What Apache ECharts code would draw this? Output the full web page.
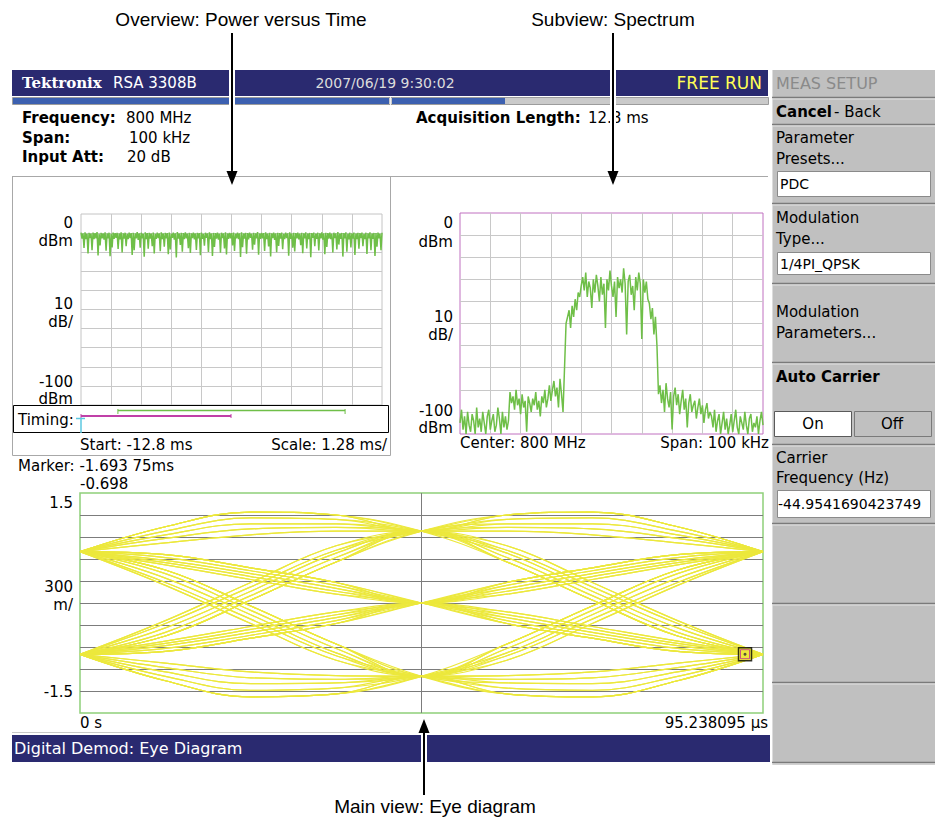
<!DOCTYPE html>
<html><head><meta charset="utf-8">
<script src="https://cdn.jsdelivr.net/npm/echarts@6/dist/echarts.min.js"></script>
<style>html,body{margin:0;padding:0;background:#fff;}#c{width:935px;height:823px;}</style>
</head><body><div id="c"></div>
<script>
// ---------- DATA ----------
const overviewStartMs = -12.8;
const overviewScaleMs = 1.28;
const overviewDbm = [
-9.8,-12.9,-10.1,-17.8,-9.6,-13.2,-10.3,-20.6,-9.9,-12.6,-10.2,-18.9,-9.7,-13.1,-10.0,-12.7,-9.5,-21.7,-10.4,-16.4,
-9.9,-12.8,-10.1,-13.4,-9.6,-19.2,-10.2,-12.7,-9.8,-22.1,-10.3,-17.5,-9.7,-13.0,-10.0,-12.5,-9.9,-18.3,-10.2,-13.3,
-9.6,-20.1,-10.1,-12.9,-9.8,-16.8,-10.4,-13.2,-9.7,-12.6,-10.0,-21.4,-9.9,-19.0,-10.2,-12.8,-9.5,-13.5,-10.1,-17.6,
-9.8,-12.7,-10.3,-22.4,-9.6,-13.1,-10.0,-18.2,-9.9,-12.9,-10.2,-16.9,-9.7,-20.7,-10.4,-13.0,-9.8,-12.6,-10.1,-19.5,
-9.6,-13.2,-10.2,-17.1,-9.9,-12.8,-10.0,-21.0,-9.7,-18.6,-10.3,-12.5,-9.8,-13.4,-10.1,-22.8,-9.5,-12.9,-10.2,-16.2,
-9.9,-19.7,-10.0,-13.1,-9.6,-12.7,-10.3,-17.9,-9.8,-20.4,-10.1,-12.6,-9.7,-13.3,-10.2,-18.8,-9.9,-12.8,-10.0,-21.6,
-9.7,-13.0,-10.4,-16.6,-9.8,-12.5,-10.1,-19.9,-9.6,-13.2,-10.2,-22.0,-9.9,-17.3,-10.0,-12.9,-9.7,-13.4,-10.3,-20.3,
-9.8,-12.6,-10.1,-18.1,-9.6,-21.2,-10.2,-13.0,-9.9,-12.7,-10.0,-16.5,-9.7,-19.3,-10.3,-12.8,-9.8,-13.1,-10.1,-22.5,
-9.6,-17.4,-10.2,-12.9,-9.9,-20.8,-10.0,-13.3,-9.7,-12.5,-10.3,-18.7,-9.8,-16.1,-10.1,-12.7,-9.5,-21.3,-10.2,-13.0,
-9.9,-12.8,-10.0,-19.4,-9.6,-13.2,-10.3,-17.0,-9.8,-22.2,-10.1,-12.6,-9.7,-13.5,-10.2,-20.0,-9.9,-16.7,-10.0,-12.9,
-9.7,-18.4,-10.4,-13.1,-9.8,-12.6,-10.1,-21.8,-9.6,-13.0,-10.2,-17.7,-9.9,-19.6,-10.0,-12.8,-9.7,-13.3,-10.3,-16.3,
-9.8,-20.5,-10.1,-12.7,-9.6,-18.0,-10.2,-13.2,-9.9,-22.6,-10.0,-12.5,-9.7,-16.9,-10.3,-13.0,-9.8,-19.1,-10.1,-12.8,
-9.6,-13.4,-10.2,-21.1,-9.9,-17.2,-10.0,-12.9,-9.7,-13.1,-10.3,-20.2,-9.8,-12.6,-10.1,-18.5,-9.5,-16.0,-10.2,-13.0,
-9.9,-22.3,-10.0,-12.7,-9.6,-19.8,-10.3,-13.3,-9.8,-17.5,-10.1,-12.9,-9.7,-21.5,-10.2,-13.1,-9.9,-18.2,-10.0,-12.6,
-9.7,-16.8,-10.4,-13.2,-9.8,-20.9,-10.1,-12.8,-9.6,-19.0,-10.2,-13.0,-9.9,-22.0,-10.0,-17.1,-9.7,-12.7,-10.3,-18.9,
-9.8];

const spanKHz = 100;
const spectrumDbm = [
-95,-89,-98,-92,-100,-90,-96,-99,-91,-94,-100,-88,-97,-93,-99,-90,-95,-100,-92,-89,-98,-94,-91,-99,-96,-88,-93,-100,-90,-97,-92,-98,-94,
-81,-86,-83,-89,-80,-87,-84,-91,-82,-88,-85,-99,-83,-86,-90,-84,-87,-81,-89,-85,-92,-83,-86,-80,-88,-84,-78,-85,-80,-76,-83,-79,-88,-75,-82,-90,
-70,-50,-47,-44,
-52,-42,-47,-39,-44,-36,
-38,-33,
-29,-35,-27,-38,-31,-34,-43,-30,-36,-28,-33,-40,-29,-37,-32,-52,-30,-35,-26,-33,-38,-31,-47,-29,-34,-30,-36,-25,-32,-55,-31,-28,-37,-33,-44,-29,-35,-27,-32,-57,-30,-36,-31,-39,
-41,-48,-43,-55,-47,-60,-82,
-78,-86,-80,-90,-77,-84,-88,-81,-98,-83,-79,-87,-82,-91,-85,-80,-89,-84,-97,-86,-82,-90,-87,-85,-93,-88,-84,-91,-87,-95,-89,-86,-93,-90,
-92,-97,-89,-99,-94,-91,-100,-95,-90,-98,-93,-100,-96,-91,-99,-94,-89,-97,-100,-92,-95,-98,-90,-96,-100,-93,-91,-99,-95,-97,-92,-100,-94,-90,-96];

const eyeTimesUs = [0, 11.9047619, 23.8095238, 35.7142857, 47.6190476, 59.5238095, 71.4285714, 83.3333333, 95.238095];
const eyeTraces = [
[0.70,1.04,1.24,1.20,0.98,1.08,1.08,0.93,0.70],
[0.70,0.98,1.16,1.14,0.98,1.03,1.01,0.88,0.70],
[0.70,0.93,1.08,1.08,0.98,0.98,0.93,0.82,0.70],
[0.70,0.88,1.01,1.03,0.98,1.20,1.24,1.04,0.70],
[0.70,0.82,0.93,0.98,0.98,1.14,1.16,0.98,0.70],
[0.70,1.04,1.24,1.20,0.98,1.20,1.24,1.04,0.70],
[0.70,1.04,1.24,1.20,0.98,0.68,0.16,-0.34,-0.70],
[0.70,0.98,1.16,1.14,0.98,0.72,0.22,-0.28,-0.70],
[0.70,0.93,1.08,1.08,0.98,0.78,0.28,-0.24,-0.70],
[0.70,0.88,1.01,1.03,0.98,0.56,0.04,-0.45,-0.70],
[0.70,0.82,0.93,0.98,0.98,0.62,0.10,-0.40,-0.70],
[0.70,1.04,1.24,1.20,0.98,0.56,0.04,-0.45,-0.70],
[0.70,0.66,0.48,0.28,0.00,0.20,0.40,0.58,0.70],
[0.70,0.62,0.44,0.24,0.00,0.16,0.36,0.55,0.70],
[0.70,0.58,0.40,0.20,0.00,0.12,0.32,0.52,0.70],
[0.70,0.55,0.36,0.16,0.00,0.28,0.48,0.66,0.70],
[0.70,0.52,0.32,0.12,0.00,0.24,0.44,0.62,0.70],
[0.70,0.66,0.48,0.28,0.00,0.28,0.48,0.66,0.70],
[0.70,0.66,0.48,0.28,0.00,-0.20,-0.40,-0.58,-0.70],
[0.70,0.62,0.44,0.24,0.00,-0.16,-0.36,-0.55,-0.70],
[0.70,0.58,0.40,0.20,0.00,-0.12,-0.32,-0.52,-0.70],
[0.70,0.55,0.36,0.16,0.00,-0.28,-0.48,-0.66,-0.70],
[0.70,0.52,0.32,0.12,0.00,-0.24,-0.44,-0.62,-0.70],
[0.70,0.66,0.48,0.28,0.00,-0.28,-0.48,-0.66,-0.70],
[0.70,0.45,-0.04,-0.56,-1.00,-0.68,-0.16,0.34,0.70],
[0.70,0.40,-0.10,-0.62,-1.00,-0.72,-0.22,0.28,0.70],
[0.70,0.34,-0.16,-0.68,-1.00,-0.78,-0.28,0.24,0.70],
[0.70,0.28,-0.22,-0.72,-1.00,-0.56,-0.04,0.45,0.70],
[0.70,0.24,-0.28,-0.78,-1.00,-0.62,-0.10,0.40,0.70],
[0.70,0.45,-0.04,-0.56,-1.00,-0.56,-0.04,0.45,0.70],
[0.70,0.45,-0.04,-0.56,-1.00,-1.09,-1.10,-0.94,-0.70],
[0.70,0.40,-0.10,-0.62,-1.00,-1.04,-1.02,-0.88,-0.70],
[0.70,0.34,-0.16,-0.68,-1.00,-0.99,-0.94,-0.82,-0.70],
[0.70,0.28,-0.22,-0.72,-1.00,-1.24,-1.28,-1.06,-0.70],
[0.70,0.24,-0.28,-0.78,-1.00,-1.16,-1.19,-1.00,-0.70],
[0.70,0.45,-0.04,-0.56,-1.00,-1.24,-1.28,-1.06,-0.70],
[-0.70,-1.06,-1.28,-1.24,-1.00,-1.09,-1.10,-0.94,-0.70],
[-0.70,-1.00,-1.19,-1.16,-1.00,-1.04,-1.02,-0.88,-0.70],
[-0.70,-0.94,-1.10,-1.09,-1.00,-0.99,-0.94,-0.82,-0.70],
[-0.70,-0.88,-1.02,-1.04,-1.00,-1.24,-1.28,-1.06,-0.70],
[-0.70,-0.82,-0.94,-0.99,-1.00,-1.16,-1.19,-1.00,-0.70],
[-0.70,-1.06,-1.28,-1.24,-1.00,-1.24,-1.28,-1.06,-0.70],
[-0.70,-1.06,-1.28,-1.24,-1.00,-0.68,-0.16,0.34,0.70],
[-0.70,-1.00,-1.19,-1.16,-1.00,-0.72,-0.22,0.28,0.70],
[-0.70,-0.94,-1.10,-1.09,-1.00,-0.78,-0.28,0.24,0.70],
[-0.70,-0.88,-1.02,-1.04,-1.00,-0.56,-0.04,0.45,0.70],
[-0.70,-0.82,-0.94,-0.99,-1.00,-0.62,-0.10,0.40,0.70],
[-0.70,-1.06,-1.28,-1.24,-1.00,-0.56,-0.04,0.45,0.70],
[-0.70,-0.66,-0.48,-0.28,0.00,-0.20,-0.40,-0.58,-0.70],
[-0.70,-0.62,-0.44,-0.24,0.00,-0.16,-0.36,-0.55,-0.70],
[-0.70,-0.58,-0.40,-0.20,0.00,-0.12,-0.32,-0.52,-0.70],
[-0.70,-0.55,-0.36,-0.16,0.00,-0.28,-0.48,-0.66,-0.70],
[-0.70,-0.52,-0.32,-0.12,0.00,-0.24,-0.44,-0.62,-0.70],
[-0.70,-0.66,-0.48,-0.28,0.00,-0.28,-0.48,-0.66,-0.70],
[-0.70,-0.66,-0.48,-0.28,0.00,0.20,0.40,0.58,0.70],
[-0.70,-0.62,-0.44,-0.24,0.00,0.16,0.36,0.55,0.70],
[-0.70,-0.58,-0.40,-0.20,0.00,0.12,0.32,0.52,0.70],
[-0.70,-0.55,-0.36,-0.16,0.00,0.28,0.48,0.66,0.70],
[-0.70,-0.52,-0.32,-0.12,0.00,0.24,0.44,0.62,0.70],
[-0.70,-0.66,-0.48,-0.28,0.00,0.28,0.48,0.66,0.70],
[-0.70,-0.45,0.04,0.56,0.98,0.68,0.16,-0.34,-0.70],
[-0.70,-0.40,0.10,0.62,0.98,0.72,0.22,-0.28,-0.70],
[-0.70,-0.34,0.16,0.68,0.98,0.78,0.28,-0.24,-0.70],
[-0.70,-0.28,0.22,0.72,0.98,0.56,0.04,-0.45,-0.70],
[-0.70,-0.24,0.28,0.78,0.98,0.62,0.10,-0.40,-0.70],
[-0.70,-0.45,0.04,0.56,0.98,0.56,0.04,-0.45,-0.70],
[-0.70,-0.45,0.04,0.56,0.98,1.08,1.08,0.93,0.70],
[-0.70,-0.40,0.10,0.62,0.98,1.03,1.01,0.88,0.70],
[-0.70,-0.34,0.16,0.68,0.98,0.98,0.93,0.82,0.70],
[-0.70,-0.28,0.22,0.72,0.98,1.20,1.24,1.04,0.70],
[-0.70,-0.24,0.28,0.78,0.98,1.14,1.16,0.98,0.70],
[-0.70,-0.45,0.04,0.56,0.98,1.20,1.24,1.04,0.70]];
const eyeMarker = [92.73, -0.698];
const timingAnalysisMs = [-11.23, -1.57];
const timingSpectrumMs = [-12.8, -6.42];
const timingMarkerMs = -12.8;

// ---------- STYLE ----------
const FONT = '"DejaVu Sans", Verdana, sans-serif';
const ANN = '"Liberation Sans", Arial, sans-serif';
const NAVY = '#2a2a70';
const GREEN = '#6fbf48';
const YELLOW = '#ece83c';
const PANEL = '#c0c0c0';

function T(x, y, text, o) {
  o = o || {};
  const al = o.align || 'left';
  return { type: 'text', x: x, y: y, z: o.z || 50, silent: true,
    style: { text: text, fill: o.fill || '#000',
      font: (o.weight || 'normal') + ' ' + (o.size || 15) + 'px ' + (o.family || FONT),
      align: al, verticalAlign: 'middle', textAlign: al, textVerticalAlign: 'middle' } };
}
function L(x1, y1, x2, y2, c, w, z) {
  return { type: 'line', silent: true, z: z || 10, shape: { x1: x1, y1: y1, x2: x2, y2: y2 },
    style: { stroke: c, lineWidth: w || 1 } };
}
function R(x, y, w, h, fill, stroke, z, lw) {
  return { type: 'rect', silent: true, z: z || 5, shape: { x: x, y: y, width: w, height: h },
    style: { fill: fill || 'none', stroke: stroke || 'none', lineWidth: lw || 1 } };
}
function P(points, fill, z) {
  return { type: 'polygon', silent: true, z: z || 100, shape: { points: points }, style: { fill: fill } };
}

const chart = echarts.init(document.getElementById('c'), null, { renderer: 'svg' });

const nO = overviewDbm.length;
const overviewData = overviewDbm.map((v, i) => [overviewStartMs + i * overviewScaleMs * 10 / (nO - 1), v]);
const nS = spectrumDbm.length;
const spectrumData = spectrumDbm.map((v, i) => [-spanKHz / 2 + i * spanKHz / (nS - 1), v]);

const hidden = { axisLine: { show: false }, axisTick: { show: false }, axisLabel: { show: false } };
function split(c) { return { show: true, showMinLine: false, showMaxLine: false, lineStyle: { color: c, width: 1 } }; }

const series = [
  { type: 'line', xAxisIndex: 0, yAxisIndex: 0, data: overviewData, symbol: 'none',
    lineStyle: { color: GREEN, width: 1.5 }, animation: false, z: 3 },
  { type: 'line', xAxisIndex: 1, yAxisIndex: 1, data: spectrumData, symbol: 'none',
    lineStyle: { color: GREEN, width: 1.5 }, animation: false, z: 3 }
];
eyeTraces.forEach(tr => {
  series.push({ type: 'line', xAxisIndex: 2, yAxisIndex: 2, smooth: 0.4, symbol: 'none',
    data: eyeTimesUs.map((t, k) => [t, tr[k]]), lineStyle: { color: YELLOW, width: 1.2 },
    animation: false, z: 3, silent: true });
});
series.push({ type: 'scatter', xAxisIndex: 2, yAxisIndex: 2, data: [eyeMarker], symbol: 'rect', symbolSize: 13,
  itemStyle: { color: YELLOW, borderColor: '#000', borderWidth: 1.5 }, z: 5, animation: false, silent: true });
series.push({ type: 'scatter', xAxisIndex: 2, yAxisIndex: 2, data: [eyeMarker], symbol: 'rect', symbolSize: 9,
  itemStyle: { color: YELLOW, borderColor: '#c03090', borderWidth: 1 }, z: 6, animation: false, silent: true });
series.push({ type: 'scatter', xAxisIndex: 2, yAxisIndex: 2, data: [eyeMarker], symbol: 'circle', symbolSize: 3,
  itemStyle: { color: '#303030' }, z: 7, animation: false, silent: true });

chart.setOption({
  animation: false,
  backgroundColor: '#fff',
  grid: [
    { left: 81, top: 214, width: 301, height: 191, show: true, borderColor: '#c4c4c4', borderWidth: 1, backgroundColor: 'transparent' },
    { left: 460, top: 213, width: 303, height: 221, show: true, borderColor: '#c070c0', borderWidth: 1, backgroundColor: 'transparent' },
    { left: 80, top: 493, width: 683, height: 220, show: true, borderColor: '#8fd07a', borderWidth: 1.5, backgroundColor: 'transparent' }
  ],
  xAxis: [
    Object.assign({ gridIndex: 0, type: 'value', min: overviewStartMs, max: 0, interval: overviewScaleMs, splitLine: split('#c8c8c8') }, hidden),
    Object.assign({ gridIndex: 1, type: 'value', min: -spanKHz / 2, max: spanKHz / 2, interval: 10, splitLine: split('#c8c8c8') }, hidden),
    Object.assign({ gridIndex: 2, type: 'value', min: 0, max: 95.238095, interval: 47.6190475, splitLine: split('#7c7c7c') }, hidden)
  ],
  yAxis: [
    Object.assign({ gridIndex: 0, type: 'value', min: -100, max: 0, interval: 10, splitLine: split('#c8c8c8') }, hidden),
    Object.assign({ gridIndex: 1, type: 'value', min: -100, max: 0, interval: 10, splitLine: split('#c8c8c8') }, hidden),
    Object.assign({ gridIndex: 2, type: 'value', min: -1.5, max: 1.5, interval: 0.3, splitLine: split('#7c7c7c') }, hidden)
  ],
  series: series
});

// ---------- CHROME ----------
const px = v => chart.convertToPixel({ xAxisIndex: 0 }, v);
const g = [];
// header
g.push(R(12, 70, 756, 26, NAVY, null, 5));
g.push(T(22, 83, 'Tektronix', { fill: '#fff', weight: 'bold', size: 15, family: '"DejaVu Serif", serif' }));
g.push(T(113, 83, 'RSA 3308B', { fill: '#fff', size: 15 }));
g.push(T(385, 83, '2007/06/19 9:30:02', { fill: '#dcdcdc', size: 14, align: 'center' }));
g.push(T(762, 83, 'FREE RUN', { fill: '#ffff55', size: 17, align: 'right' }));
// progress row
g.push(R(12.5, 97.5, 756, 7, '#cacaca', '#9c9c9c', 5));
g.push(R(13, 98, 376, 6, '#3c60b0', null, 6));
g.push(L(390.5, 97, 390.5, 105, '#f0f0f0', 1, 7));
g.push(R(392, 98, 113, 6, '#3c60b0', null, 6));
// info
g.push(T(22, 118, 'Frequency:', { weight: 'bold' }));
g.push(T(126, 118, '800 MHz'));
g.push(T(22, 138, 'Span:', { weight: 'bold' }));
g.push(T(129, 138, '100 kHz'));
g.push(T(22, 157, 'Input Att:', { weight: 'bold' }));
g.push(T(127, 157, '20 dB'));
g.push(T(416, 118, 'Acquisition Length:', { weight: 'bold' }));
g.push(T(588, 118, '12.8 ms'));
// frames
g.push(L(12, 176.5, 768, 176.5, '#a8a8a8', 1, 8));
g.push(R(12.5, 176.5, 378, 279, null, '#a8a8a8', 8));
g.push(R(13.5, 405.5, 375, 27, null, '#000', 9));
g.push(L(12, 732.5, 390, 732.5, '#c8c8c8', 1, 8));
// overview labels
g.push(T(73, 223, '0', { align: 'right' }));
g.push(T(73, 241, 'dBm', { align: 'right' }));
g.push(T(73, 304, '10', { align: 'right' }));
g.push(T(73, 322, 'dB/', { align: 'right' }));
g.push(T(73, 382, '-100', { align: 'right' }));
g.push(T(73, 399, 'dBm', { align: 'right' }));
g.push(R(14, 406, 374, 26, '#fff', null, 8));
g.push(T(18, 420, 'Timing:'));
g.push(T(80, 445, 'Start: -12.8 ms'));
g.push(T(387, 445, 'Scale: 1.28 ms/', { align: 'right' }));
// timing bars
const ga = px(timingAnalysisMs[0]), gb = px(timingAnalysisMs[1]);
g.push(L(ga, 410.5, gb, 410.5, GREEN, 1.5, 12));
g.push(L(ga, 409, ga, 414, GREEN, 1, 12));
g.push(L(gb, 409, gb, 414, GREEN, 1, 12));
const ma = px(timingSpectrumMs[0]), mb = px(timingSpectrumMs[1]);
g.push(L(ma, 416, mb, 416, '#c040a8', 2, 12));
g.push(L(ma, 414, ma, 418, '#c040a8', 1, 12));
g.push(L(mb, 414, mb, 418, '#c040a8', 1, 12));
const ca = px(timingMarkerMs);
g.push(L(ca - 5, 418.5, ca + 4, 418.5, '#5cc8e0', 1.5, 13));
g.push(L(ca, 418, ca, 433, '#5cc8e0', 1.5, 13));
// spectrum labels
g.push(T(453, 223, '0', { align: 'right' }));
g.push(T(453, 242, 'dBm', { align: 'right' }));
g.push(T(453, 317, '10', { align: 'right' }));
g.push(T(453, 335, 'dB/', { align: 'right' }));
g.push(T(453, 411, '-100', { align: 'right' }));
g.push(T(453, 428, 'dBm', { align: 'right' }));
g.push(T(460, 443, 'Center: 800 MHz'));
g.push(T(769, 443, 'Span: 100 kHz', { align: 'right' }));
// eye labels
g.push(T(18, 466, 'Marker: -1.693 75ms'));
g.push(T(80, 484, '-0.698'));
g.push(T(73, 503, '1.5', { align: 'right' }));
g.push(T(73, 587, '300', { align: 'right' }));
g.push(T(73, 605, 'm/', { align: 'right' }));
g.push(T(73, 692, '-1.5', { align: 'right' }));
g.push(T(80, 723, '0 s'));
g.push(T(768, 723, '95.238095 \u00b5s', { align: 'right' }));
// bottom bar
g.push(R(12, 735, 758, 27, NAVY, null, 5));
g.push(T(14, 748, 'Digital Demod: Eye Diagram', { fill: '#fff', size: 16 }));
// right panel
g.push(R(772, 70, 163, 695, PANEL, null, 5));
g.push(L(772.5, 70, 772.5, 765, '#dcdcdc', 1, 6));
[97, 124, 203, 283, 362, 444, 523, 603, 682, 762].forEach(y => {
  g.push(L(772, y + 0.5, 935, y + 0.5, '#7a7a7a', 1.5, 7));
  g.push(L(772, y + 2, 935, y + 2, '#e2e2e2', 1, 7));
});
g.push(T(776, 83, 'MEAS SETUP', { fill: '#8a8a8a', size: 16 }));
g.push(T(776, 112, 'Cancel', { weight: 'bold' }));
g.push(T(834, 112, '- Back'));
g.push(T(776, 138, 'Parameter'));
g.push(T(776, 159, 'Presets...'));
g.push(R(777.5, 171.5, 153, 25, '#fff', '#8a8a8a', 8));
g.push(T(780, 184, 'PDC', { size: 14 }));
g.push(T(776, 218, 'Modulation'));
g.push(T(776, 239, 'Type...'));
g.push(R(777.5, 252.5, 153, 22, '#fff', '#8a8a8a', 8));
g.push(T(780, 264, '1/4PI_QPSK', { size: 14 }));
g.push(T(776, 312, 'Modulation'));
g.push(T(776, 333, 'Parameters...'));
g.push(T(776, 377, 'Auto Carrier', { weight: 'bold' }));
g.push(R(774.5, 411.5, 77, 25, '#fff', '#5a5a5a', 8));
g.push(T(813, 424, 'On', { align: 'center' }));
g.push(R(854.5, 411.5, 77, 25, PANEL, '#7a7a7a', 8));
g.push(T(892, 424, 'Off', { align: 'center' }));
g.push(T(776, 458, 'Carrier'));
g.push(T(776, 478, 'Frequency (Hz)'));
g.push(R(777.5, 490.5, 153, 27, '#fff', '#8a8a8a', 8));
g.push(T(778, 504, '-44.9541690423749', { size: 14 }));
// annotations
g.push(T(241, 19, 'Overview: Power versus Time', { family: ANN, size: 19, z: 120, align: 'center' }));
g.push(T(613, 19, 'Subview: Spectrum', { family: ANN, size: 19, z: 120, align: 'center' }));
g.push(T(435, 806, 'Main view: Eye diagram', { family: ANN, size: 19, z: 120, align: 'center' }));
g.push(L(232, 36, 232, 176, '#fff', 6, 98));
g.push(L(232, 33, 232, 176, '#000', 2, 100));
g.push(P([[226.5, 171], [237.5, 171], [232, 185]], '#000'));
g.push(L(613, 36, 613, 176, '#fff', 6, 98));
g.push(L(613, 33, 613, 176, '#000', 2, 100));
g.push(P([[607.5, 171], [618.5, 171], [613, 185]], '#000'));
g.push(L(424, 730, 424, 793, '#fff', 6, 98));
g.push(L(424, 726, 424, 795, '#000', 2, 100));
g.push(P([[418.5, 733], [429.5, 733], [424, 719]], '#000'));

chart.setOption({ graphic: { elements: g } });
</script></body></html>
